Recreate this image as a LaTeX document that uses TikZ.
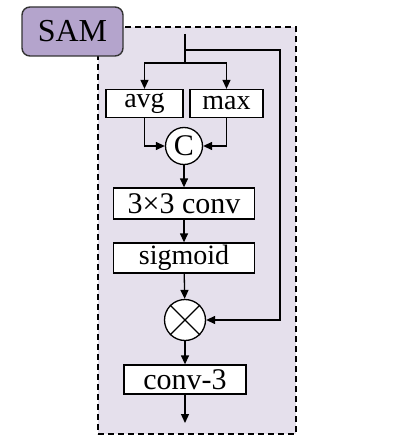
\documentclass[tikz,border=0pt]{standalone}
\usepackage{fontspec}
\setmainfont{Liberation Serif}
\usepackage{xcolor}
\usetikzlibrary{arrows.meta,positioning}
\definecolor{samback}{RGB}{229,224,236}
\definecolor{samtag}{RGB}{180,164,204}
\tikzset{
  sam frame/.style={
    rectangle,
    draw=black,
    fill=samback,
    line width=1.6pt,
    dash pattern=on 6pt off 4pt,
    inner sep=0pt,
  },
  sam tag/.style={
    rectangle,
    rounded corners=8pt,
    draw=black!80,
    fill=samtag,
    line width=1.4pt,
    minimum width=101pt,
    minimum height=49pt,
    inner sep=0pt,
    font=\fontsize{32}{34}\selectfont,
  },
  op box/.style={
    rectangle,
    draw=black,
    fill=white,
    line width=1.3pt,
    minimum height=28pt,
    inner sep=0pt,
    font=\fontsize{28}{30}\selectfont,
  },
  op circle/.style={
    circle,
    draw=black,
    fill=white,
    line width=1.3pt,
    inner sep=0pt,
    font=\fontsize{30}{32}\selectfont,
  },
  flow arrow/.style={-{Stealth[length=9pt,width=8pt,inset=0pt]}, line width=1.3pt},
  flow line/.style={line width=1.3pt},
}
\begin{document}
\begin{tikzpicture}[x=1pt,y=-1pt]
  \useasboundingbox (0,0) rectangle (408,444);

  \node[sam frame,minimum width=198pt,minimum height=407pt] (frame) at (197,230.5) {};
  \node[sam tag] (tag) at (72.5,31.5) {SAM};

  \node[op box,minimum width=77pt] (avg) at (144.5,103.5) {avg};
  \node[op box,minimum width=73pt] (max) at (226.5,103.5) {max};
  \node[op circle,minimum size=37pt] (cat) at (184,146) {C};

  \node[op box,minimum width=141pt,minimum height=31pt,font=\fontsize{30}{32}\selectfont] (conv) at (184,203.5) {3×3 conv};
  \node[op box,minimum width=141pt,minimum height=30pt] (sig) at (184,258) {sigmoid};
  \node[op circle,minimum size=41pt] (mul) at (185,320) {};
  \draw[line width=1.3pt] (mul.north west) -- (mul.south east)
                          (mul.north east) -- (mul.south west);
  \node[op box,minimum width=122pt,minimum height=29pt,font=\fontsize{30}{32}\selectfont] (out) at (185,379.5) {conv-3};

  \coordinate (in) at (185,34);
  \coordinate (tap) at (185,50);
  \coordinate (split) at (185,63);
  \coordinate (bend) at (280,50);
  \coordinate (end) at (185,423);

  % input and the two pooling branches
  \draw[flow line] (in) -- (split);
  \draw[flow arrow] (split) -| (avg.north);
  \draw[flow arrow] (split) -| (max.north);
  \draw[flow arrow] (avg.south) |- (cat.west);
  \draw[flow arrow] (max.south) |- (cat.east);

  % attention map
  \draw[flow arrow] (cat) -- (conv);
  \draw[flow arrow] (conv) -- (sig);
  \draw[flow arrow] (sig) -- (mul);

  % skip to the product
  \draw[flow arrow] (tap) -- (bend) |- (mul.east);

  \draw[flow arrow] (mul) -- (out);
  \draw[flow arrow] (out) -- (end);
\end{tikzpicture}
\end{document}
